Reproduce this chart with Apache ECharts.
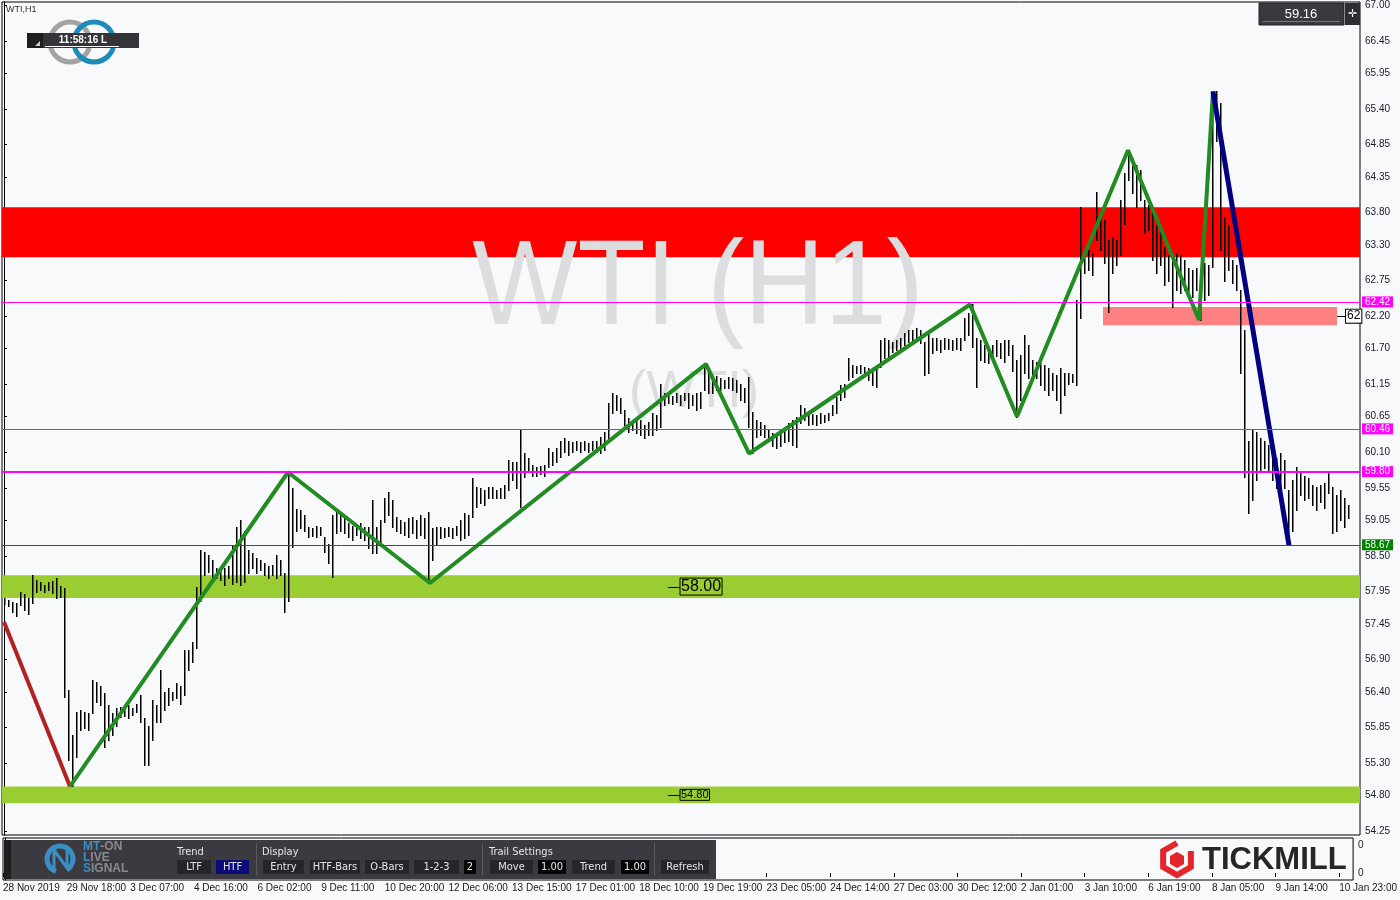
<!DOCTYPE html>
<html><head><meta charset="utf-8">
<script src="https://cdn.jsdelivr.net/npm/echarts@6/dist/echarts.min.js"></script>
<style>html,body{margin:0;padding:0;background:#F8F9FB;}#c{width:1400px;height:900px;}</style>
</head><body><div id="c"></div>
<script>
// ---- DATA ----
// H1 price range, sampled per 2-hour slot, index 0 = 28 Nov 2019
const barHigh = [
57.85,57.82,57.78,57.77,57.94,57.91,57.85,58.20,58.12,58.09,
58.05,58.09,58.11,58.15,58.03,58.00,56.43,55.73,56.09,56.12,
56.09,56.07,56.58,56.55,56.49,56.38,56.19,56.07,56.15,56.16,
56.15,56.19,56.15,56.22,56.35,55.99,55.88,56.27,56.19,56.73,
56.40,56.46,56.40,56.53,56.49,57.04,57.04,57.17,58.02,58.59,
58.56,58.51,58.43,58.31,58.28,58.31,58.34,58.66,58.94,59.05,
58.89,58.59,58.54,58.46,58.43,58.39,58.34,58.36,58.51,58.43,
58.23,59.78,59.54,59.23,59.20,59.13,58.94,58.93,58.96,58.94,
58.79,58.69,59.13,59.20,59.17,59.13,59.00,58.96,58.97,59.00,
58.94,58.94,59.36,58.94,59.05,59.39,59.48,59.36,59.10,59.05,
59.02,59.08,59.10,59.05,59.13,59.08,59.17,58.93,58.94,58.94,
58.93,58.94,58.93,58.96,59.05,59.16,59.13,59.70,59.56,59.54,
59.51,59.56,59.56,59.51,59.54,59.59,59.98,59.95,59.95,60.44,
60.08,60.01,59.90,59.87,59.88,59.90,60.16,60.10,60.16,60.28,
60.32,60.28,60.25,60.28,60.25,60.28,60.24,60.27,60.28,60.33,
60.41,60.86,61.01,60.98,60.93,60.75,60.63,60.59,60.63,60.59,
60.52,60.56,60.70,60.67,61.16,61.01,60.98,60.96,61.01,60.98,
61.01,61.01,60.98,61.01,61.03,61.46,61.33,61.29,61.27,61.24,
61.21,61.26,61.24,61.21,61.16,61.09,61.26,60.72,60.59,60.56,
60.52,60.44,60.39,60.35,60.39,60.47,60.55,60.59,60.64,60.83,
60.78,60.70,60.69,60.67,60.70,60.67,60.70,60.83,60.95,61.13,
61.16,61.55,61.44,61.43,61.44,61.41,61.40,61.36,61.40,61.83,
61.87,61.83,61.80,61.83,61.86,61.94,61.98,61.98,62.01,61.98,
61.80,61.95,61.87,61.86,61.83,61.86,61.84,61.83,61.86,61.87,
62.17,62.25,62.38,61.87,61.83,61.75,61.70,61.75,61.83,61.78,
61.83,61.83,61.75,61.52,61.60,61.91,61.75,61.52,61.49,61.47,
61.44,61.40,61.33,61.29,61.40,61.33,61.32,61.30,62.45,63.88,
63.17,63.22,63.17,64.11,63.79,63.68,63.37,63.42,63.37,63.99,
64.41,64.76,64.64,64.53,64.45,63.99,63.91,63.79,63.60,63.53,
63.26,63.14,63.11,63.17,63.14,63.06,62.95,62.91,62.94,62.86,
63.02,62.99,65.64,65.67,65.49,63.73,63.60,63.06,62.99,62.60,
61.98,60.28,60.44,60.41,60.32,60.28,60.21,60.08,60.01,60.08,
59.98,59.51,59.67,59.87,59.78,59.74,59.70,59.59,59.56,59.59,
59.62,59.79,59.56,59.44,59.51,59.40,59.28];
const barLow = [
57.75,57.72,57.63,57.57,57.74,57.66,57.60,57.77,57.94,57.97,
57.94,57.97,57.92,57.85,57.86,56.32,55.35,54.94,55.39,55.81,
55.84,55.81,56.07,56.24,56.19,55.55,55.65,55.73,55.88,56.01,
56.02,55.99,56.05,56.09,55.93,55.27,55.27,55.65,55.93,55.93,
56.12,56.19,56.27,56.30,56.22,56.35,56.73,56.86,57.07,57.81,
58.20,58.25,58.09,58.15,58.12,58.05,58.15,58.06,58.09,58.05,
58.09,58.23,58.31,58.23,58.28,58.20,58.15,58.20,58.15,58.20,
57.63,57.81,58.63,58.89,58.93,58.89,58.79,58.80,58.79,58.82,
58.56,58.39,58.17,58.85,58.89,58.85,58.79,58.74,58.82,58.77,
58.74,58.62,58.54,58.54,58.66,59.02,59.13,58.94,58.89,58.86,
58.82,58.79,58.85,58.77,58.82,58.77,58.08,58.43,58.66,58.77,
58.79,58.80,58.77,58.82,58.74,58.77,58.82,59.10,59.25,59.31,
59.28,59.40,59.40,59.40,59.39,59.39,59.51,59.67,59.54,59.25,
59.71,59.82,59.74,59.74,59.76,59.74,59.87,59.90,59.95,60.02,
60.10,60.05,60.10,60.13,60.10,60.13,60.10,60.13,60.11,60.08,
60.13,60.28,60.70,60.75,60.70,60.52,60.41,60.44,60.39,60.36,
60.32,60.36,60.36,60.44,60.49,60.83,60.86,60.84,60.87,60.83,
60.90,60.78,60.83,60.75,60.78,61.06,61.01,61.01,61.06,61.06,
61.09,61.09,61.06,61.03,60.90,60.87,60.49,60.08,60.33,60.36,
60.33,60.28,60.19,60.16,60.19,60.25,60.28,60.21,60.18,60.55,
60.59,60.52,60.53,60.52,60.55,60.56,60.59,60.67,60.70,60.90,
60.95,61.21,61.26,61.32,61.33,61.29,61.21,61.13,61.10,61.41,
61.55,61.57,61.64,61.67,61.67,61.75,61.80,61.83,61.86,61.78,
61.29,61.33,61.63,61.67,61.64,61.70,61.69,61.67,61.70,61.67,
61.83,61.91,61.72,61.10,61.52,61.49,61.47,61.52,61.58,61.55,
61.49,61.60,61.36,60.64,60.90,61.32,61.24,61.21,61.24,61.13,
61.06,60.98,61.06,60.90,60.70,60.98,61.16,61.18,61.13,62.17,
62.86,62.91,62.83,63.37,63.22,63.02,62.26,62.86,62.99,63.14,
63.63,64.30,64.10,63.88,63.99,63.48,63.53,63.06,62.86,62.99,
62.68,62.75,62.34,62.60,62.55,62.60,62.52,62.49,62.60,62.14,
62.45,62.52,62.96,64.91,63.22,62.75,62.91,62.71,62.60,61.32,
59.71,59.16,59.36,59.67,59.82,59.85,59.82,59.67,59.54,59.51,
59.54,58.66,58.89,59.20,59.44,59.36,59.40,59.28,59.20,59.33,
59.24,59.47,58.86,58.89,59.05,58.94,59.08];
const lastPrice = "59.16";
const redLeg   = [[0,57.48],[16.5,54.94]];
const greenLegs = [[16.5,54.94],[71,59.79],[106.5,58.08],[175.5,61.46],[186.25,60.08],
                   [241.5,62.38],[253.25,60.65],[281,64.76],[298.75,62.14],[302.25,65.67]];
const navyLeg  = [[302.25,65.67],[321.25,58.66]];
const X_MIN = -0.5, X_MAX = 339;
// zones: [fromBar, toBar, topPrice, bottomPrice]
const zones = [[X_MIN,X_MAX,63.88,63.11],[274.75,333.25,62.34,62.06],[X_MIN,X_MAX,58.20,57.85],[X_MIN,X_MAX,54.94,54.68]];
const zoneLabels = [null,"62","58.00","54.80"];
const levels = [62.42, 60.46, 59.80, 58.67];
const yTicks = [67.00,66.45,65.95,65.40,64.85,64.35,63.80,63.30,62.75,62.20,61.70,61.15,60.65,60.10,59.55,59.05,58.50,57.95,57.45,56.90,56.40,55.85,55.30,54.80,54.25];
const xTickBars = [0,16,32,48,64,80,96,112,128,144,160,176,192,208,224,240,256,272,288,304,320,336];
const xLabels = ['28 Nov 2019','29 Nov 18:00','3 Dec 07:00','4 Dec 16:00','6 Dec 02:00','9 Dec 11:00','10 Dec 20:00','12 Dec 06:00','13 Dec 15:00','17 Dec 01:00','18 Dec 10:00','19 Dec 19:00','23 Dec 05:00','24 Dec 14:00','27 Dec 03:00','30 Dec 12:00','2 Jan 01:00','3 Jan 10:00','6 Jan 19:00','8 Jan 05:00','9 Jan 14:00','10 Jan 23:00'];

// ---- STYLES ----
const zoneColors = ['#FF0000','#FF8080','#9ACD32','#9ACD32'];
const levelStyles = [
  {color:'#FF00FF', width:1, bg:'#FF00FF'},
  {color:'#FF00FF', width:1, bg:'#FF00FF'},
  {color:'#FF00FF', width:2, bg:'#FF00FF'},
  {color:'#008000', width:1, bg:'#008000'}];
const FONT = "'Liberation Sans', Arial, sans-serif";
const NARROW = "'Liberation Sans Narrow','DejaVu Sans Condensed','Liberation Sans',sans-serif";

const tickPos = xTickBars.map(b => b - 0.5);
const chart = echarts.init(document.getElementById('c'), null, {renderer:'canvas'});

const option = {
  animation:false,
  backgroundColor:'#F8F9FB',
  grid:[
    {left:2, top:2, width:1358, height:833, show:true, borderColor:'#000', borderWidth:1, backgroundColor:'#F8F9FB'},
    {left:2, top:838, width:1358, height:42, show:true, borderColor:'#000', borderWidth:1, backgroundColor:'#F8F9FB'}
  ],
  xAxis:[
    {type:'value', gridIndex:0, min:X_MIN, max:X_MAX, axisLine:{show:false}, axisTick:{show:false}, axisLabel:{show:false}, splitLine:{show:false}},
    {type:'value', gridIndex:1, min:X_MIN, max:X_MAX, axisLine:{show:false},
     axisTick:{show:true, customValues:tickPos, length:4, lineStyle:{color:'#000'}},
     axisLabel:{show:true, customValues:tickPos, align:'left', margin:3, fontSize:10, fontFamily:FONT, color:'#1a1a1a', hideOverlap:false,
       formatter:v => { const i = tickPos.indexOf(v); return i >= 0 ? xLabels[i] : ''; }},
     splitLine:{show:false}}
  ],
  yAxis:[
    {type:'value', gridIndex:0, position:'right', min:54.19, max:67.05,
     axisLine:{show:true, lineStyle:{color:'#000'}},
     axisTick:{show:true, customValues:yTicks, length:3, lineStyle:{color:'#000'}},
     axisLabel:{show:true, customValues:yTicks, formatter:v => v.toFixed(2), fontSize:10, fontFamily:FONT, color:'#1a1a2a', margin:5},
     splitLine:{show:false}},
    {type:'value', gridIndex:1, position:'right', min:-0.25, max:1.25,
     axisLine:{show:true, lineStyle:{color:'#000'}},
     axisTick:{show:true, customValues:[0,1], length:3, lineStyle:{color:'#000'}},
     axisLabel:{show:true, customValues:[0,1], formatter:() => '0', fontSize:10, fontFamily:FONT, color:'#1a1a2a', margin:5},
     splitLine:{show:false}}
  ],
  series:[
    {type:'custom', name:'zones', xAxisIndex:0, yAxisIndex:0, z:1, clip:true, silent:true,
     data:zones,
     renderItem:(params, api) => {
       const a = api.coord([api.value(0), api.value(2)]);
       const b = api.coord([api.value(1), api.value(3)]);
       return {type:'rect', shape:{x:a[0], y:a[1], width:b[0]-a[0], height:b[1]-a[1]}, style:{fill:zoneColors[params.dataIndex]}};
     }},
    {type:'custom', name:'bars', xAxisIndex:0, yAxisIndex:0, z:3, clip:true, silent:true,
     data:barHigh.map((h,i) => [i, h, barLow[i]]),
     renderItem:(params, api) => {
       const p1 = api.coord([api.value(0), api.value(1)]);
       const p2 = api.coord([api.value(0), api.value(2)]);
       const x = Math.round(p1[0]) + 0.75;
       return {type:'line', shape:{x1:x, y1:Math.round(p1[1]), x2:x, y2:Math.round(p2[1]) + 1}, style:{stroke:'#000', lineWidth:1.5}};
     }},
    {type:'line', name:'red', data:redLeg, showSymbol:false, z:4, silent:true, lineStyle:{color:'#B22222', width:4}},
    {type:'line', name:'green', data:greenLegs, showSymbol:false, z:4, silent:true, lineStyle:{color:'#228B22', width:4},
     markLine:{silent:true, symbol:'none', animation:false,
       data:levels.map((v,i) => ({yAxis:v, lineStyle:{color:levelStyles[i].color, width:levelStyles[i].width, type:'solid'},
         label:{show:true, position:'end', distance:2, formatter:v.toFixed(2), color:'#fff', fontSize:10, fontFamily:FONT,
           backgroundColor:levelStyles[i].bg, padding:[1,3,0,3]}}))}},
    {type:'line', name:'navy', data:navyLeg, showSymbol:false, z:4, silent:true, lineStyle:{color:'#000080', width:5}}
  ]
};
chart.setOption(option);

const P = (k, v) => chart.convertToPixel({xAxisIndex:0, yAxisIndex:0}, [k, v]);
const g = [];
// watermark
g.push({type:'text', z:2, x:698, y:291, scaleX:0.92, silent:true,
  style:{text:'WTI (H1)', x:0, y:0, align:'center', verticalAlign:'middle', fontSize:121, fontFamily:FONT, fill:'#DCDDDE'}});
g.push({type:'text', z:2, x:694, y:393, silent:true,
  style:{text:'(WTI)', x:0, y:0, align:'center', verticalAlign:'middle', fontSize:52, fontFamily:FONT, fill:'#DCDDDE'}});
// zone labels
zones.forEach((z, i) => {
  const lab = zoneLabels[i];
  if (!lab) return;
  const mid = (z[2] + z[3]) / 2;
  if (i === 1) {
    const a = P(z[1], mid), b = P(z[1] + 2.25, mid);
    g.push({type:'line', z:6, shape:{x1:a[0], y1:Math.round(a[1])+0.5, x2:b[0], y2:Math.round(a[1])+0.5}, style:{stroke:'#000', lineWidth:1}});
    g.push({type:'text', z:6, style:{text:lab, x:b[0], y:a[1], verticalAlign:'middle', fontSize:12, fontFamily:FONT, fill:'#000',
      borderColor:'#000', borderWidth:1, padding:[1,1,0,1], backgroundColor:'#fff'}});
  } else {
    const a = P(166, mid), b = P(169, mid);
    const big = i === 2;
    g.push({type:'line', z:6, shape:{x1:a[0], y1:Math.round(a[1])+0.5, x2:b[0], y2:Math.round(a[1])+0.5}, style:{stroke:'#000', lineWidth:1}});
    g.push({type:'text', z:6, style:{text:lab, x:b[0], y:a[1], verticalAlign:'middle', fontSize:big?16:11, fontFamily:FONT, fill:'#000',
      borderColor:'#000', borderWidth:1, padding:big?[1,1,0,1]:[0,1,0,1]}});
  }
});
// top-left header
g.push({type:'text', z:10, style:{text:'WTI,H1', x:6, y:10, verticalAlign:'middle', fontSize:9, fontFamily:FONT, fill:'#333'}});
g.push({type:'circle', z:10, shape:{cx:70, cy:42, r:20}, style:{fill:'none', stroke:'#A3A3A3', lineWidth:5}});
g.push({type:'circle', z:10, shape:{cx:94, cy:42, r:20}, style:{fill:'none', stroke:'#1E8BB9', lineWidth:5}});
g.push({type:'rect', z:11, shape:{x:27, y:33, width:112, height:15}, style:{fill:'#353439'}});
g.push({type:'rect', z:11, shape:{x:27, y:33, width:16, height:15}, style:{fill:'#1e1e20'}});
g.push({type:'polygon', z:12, shape:{points:[[35,46],[40,46],[40,41]]}, style:{fill:'#cfcfcf'}});
g.push({type:'text', z:12, style:{text:'11:58:16 L', x:83, y:40, align:'center', verticalAlign:'middle', fontSize:10, fontWeight:'bold', fontFamily:FONT, fill:'#fff'}});
g.push({type:'line', z:12, shape:{x1:45, y1:46.5, x2:119, y2:46.5}, style:{stroke:'#fff', lineWidth:1}});
// top-right price box
g.push({type:'rect', z:10, shape:{x:1259, y:3, width:85, height:22}, style:{fill:'#3a3940', stroke:'#222', lineWidth:1}});
g.push({type:'line', z:11, shape:{x1:1263, y1:21.5, x2:1340, y2:21.5}, style:{stroke:'#77767c', lineWidth:1}});
g.push({type:'text', z:11, style:{text:lastPrice, x:1301, y:14, align:'center', verticalAlign:'middle', fontSize:13, fontFamily:FONT, fill:'#fff'}});
g.push({type:'rect', z:10, shape:{x:1345, y:3, width:15, height:22}, style:{fill:'#2d2c32'}});
g.push({type:'text', z:11, style:{text:'✛', x:1352.5, y:14, align:'center', verticalAlign:'middle', fontSize:11, fontFamily:"'DejaVu Sans'", fill:'#fff'}});
// toolbar
g.push({type:'rect', z:10, shape:{x:4, y:840, width:712, height:39}, style:{fill:'#3b3a40'}});
g.push({type:'rect', z:10, shape:{x:4, y:840, width:7, height:39}, style:{fill:'#1d1d1f'}});
g.push({type:'arc', z:11, shape:{cx:60, cy:859, r:13, startAngle:Math.PI*0.6, endAngle:Math.PI*2.3}, style:{stroke:'#3b8ec3', lineWidth:5, fill:'none'}});
g.push({type:'polyline', z:11, shape:{points:[[54,872],[54,850],[67,868],[67,846]]}, style:{stroke:'#3b8ec3', lineWidth:3, fill:'none'}});
const rich = {b:{fill:'#3b8ec3', fontWeight:'bold', fontSize:12, fontFamily:FONT}, g:{fill:'#8a8990', fontWeight:'bold', fontSize:12, fontFamily:FONT}};
[['{b|MT}{g|-ON}',847],['{b|L}{g|IVE}',858],['{b|S}{g|IGNAL}',869]].forEach(([t,y]) =>
  g.push({type:'text', z:11, style:{text:t, x:83, y:y, verticalAlign:'middle', rich:rich, lineHeight:12}}));
const tbText = (t, x, y) => g.push({type:'text', z:11, style:{text:t, x:x, y:y, verticalAlign:'middle', fontSize:11, fontFamily:NARROW, fill:'#e6e6e6'}});
tbText('Trend', 177, 852); tbText('Display', 262, 852); tbText('Trail Settings', 489, 852);
const btn = (t, x, w, fill) => {
  g.push({type:'rect', z:11, shape:{x:x, y:860, width:w, height:14}, style:{fill:fill}});
  g.push({type:'text', z:12, style:{text:t, x:x + w/2, y:867, align:'center', verticalAlign:'middle', fontSize:11, fontFamily:NARROW, fill:'#e6e6e6'}});
};
btn('LTF',177,34,'#26252a'); btn('HTF',216,33,'#0c0c78');
btn('Entry',263,41,'#26252a'); btn('HTF-Bars',310,50,'#26252a'); btn('O-Bars',365,44,'#26252a'); btn('1-2-3',414,45,'#26252a'); btn('2',464,12,'#050505');
btn('Move',490,43,'#26252a'); btn('1.00',538,28,'#050505'); btn('Trend',572,43,'#26252a'); btn('1.00',621,28,'#050505');
btn('Refresh',661,48,'#26252a');
[256,482,654].forEach(x => g.push({type:'line', z:11, shape:{x1:x+0.5, y1:843, x2:x+0.5, y2:876}, style:{stroke:'#5a5960', lineWidth:1}}));
// TICKMILL logo
const hex = []; for (let i = 0; i < 6; i++) { const a = Math.PI/6 + i*Math.PI/3; hex.push([1177 + 16*Math.cos(a), 859 + 16*Math.sin(a)]); }
g.push({type:'polyline', z:11, shape:{points:[hex[5],hex[0],hex[1],hex[2],hex[3],hex[4]]}, style:{stroke:'#E2262B', lineWidth:6, fill:'none', lineJoin:'miter'}});
g.push({type:'polygon', z:11, shape:{points:[[1177,852],[1184,856],[1184,864],[1177,868],[1170,864],[1170,856]]}, style:{fill:'#E2262B'}});
g.push({type:'text', z:11, style:{text:'TICKMILL', x:1202, y:860, verticalAlign:'middle', fontSize:31, fontWeight:'bold', fontFamily:FONT, fill:'#262626'}});

chart.setOption({graphic:{elements:g}});
</script></body></html>
